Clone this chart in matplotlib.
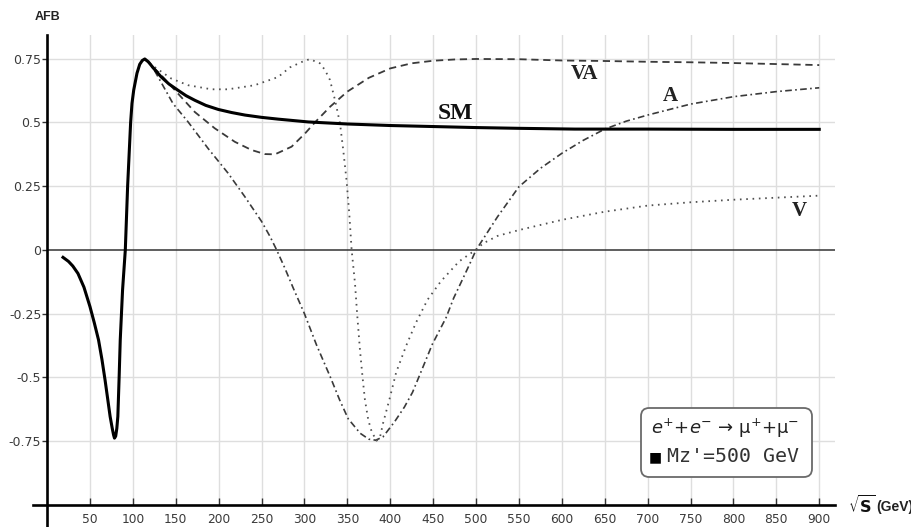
import matplotlib
matplotlib.use("Agg")
import matplotlib.pyplot as plt
from matplotlib.patches import FancyBboxPatch

# Forward-backward asymmetry vs sqrt(s)
sm_x = [18.6, 25, 30, 36, 43, 50, 55, 60, 64, 67.6, 70.5, 73.5, 76, 77.5, 78.6,
        80, 81.3, 82.5, 84, 85.3, 88, 91.2, 93.9, 97.4, 99, 101, 104.8, 108, 111,
        113.9, 118, 124, 133.2, 142, 152.7, 162, 172.2, 185, 199.6, 215, 230.7,
        250, 269.5, 304.5, 350, 400, 450, 500, 550, 615, 700, 800, 900]
sm_y = [-0.029, -0.045, -0.063, -0.092, -0.146, -0.222, -0.285, -0.353, -0.43,
        -0.51, -0.58, -0.653, -0.70, -0.725, -0.738, -0.73, -0.70, -0.653, -0.50,
        -0.353, -0.157, 0.0, 0.25, 0.50, 0.575, 0.627, 0.693, 0.728, 0.743,
        0.749, 0.738, 0.713, 0.678, 0.651, 0.626, 0.605, 0.587, 0.567, 0.551,
        0.539, 0.529, 0.520, 0.513, 0.502, 0.494, 0.488, 0.484, 0.480, 0.477,
        0.474, 0.474, 0.473, 0.473]

va_x = [114, 120, 125.5, 133.2, 152.7, 172.2, 195.5, 218.9, 238.3, 253.9, 265.6,
        285, 300.7, 313, 330, 350, 375, 400, 425, 450, 475, 500, 550, 600, 650,
        700, 750, 800, 850, 900]
va_y = [0.748, 0.73, 0.711, 0.685, 0.613, 0.541, 0.477, 0.424, 0.392, 0.376,
        0.375, 0.405, 0.457, 0.503, 0.562, 0.621, 0.675, 0.712, 0.732, 0.742,
        0.747, 0.749, 0.748, 0.743, 0.741, 0.738, 0.736, 0.733, 0.729, 0.725]

a_x = [114, 119, 125, 135, 146.8, 164.4, 187.7, 211, 230.5, 250, 260, 267.6, 277,
       287, 300, 314, 330, 341, 351, 365, 375, 383, 391.5, 405, 416.5, 426, 434,
       449, 465, 474, 484, 494, 500, 525, 550, 575, 600, 625, 650, 675, 700, 750,
       800, 850, 900]
a_y = [0.748, 0.733, 0.705, 0.645, 0.574, 0.502, 0.398, 0.301, 0.209, 0.112,
       0.052, 0.0, -0.07, -0.15, -0.25, -0.372, -0.497, -0.588, -0.662, -0.719,
       -0.742, -0.746, -0.733, -0.674, -0.616, -0.558, -0.493, -0.37, -0.266,
       -0.188, -0.117, -0.045, 0.0, 0.13, 0.248, 0.32, 0.379, 0.43, 0.474, 0.505,
       0.529, 0.572, 0.601, 0.621, 0.636]

v_x = [114, 125.5, 144.9, 164.4, 191.6, 211, 241.9, 269.2, 283.1, 300.7, 306.4,
       318, 323.9, 329.7, 335.6, 341.4, 345.2, 349, 352.2, 355, 358.9, 361.5,
       364.7, 367.8, 370.5, 374.4, 378.3, 384, 388, 391.5, 399.2, 406.9, 418.5,
       430, 443.5, 459, 480.2, 499.4, 508.4, 525, 550, 600, 650, 700, 750, 800,
       850, 900]
v_y = [0.748, 0.717, 0.672, 0.646, 0.630, 0.630, 0.646, 0.678, 0.716, 0.743,
       0.748, 0.732, 0.706, 0.667, 0.588, 0.497, 0.392, 0.275, 0.144, 0.0, -0.131,
       -0.255, -0.392, -0.502, -0.588, -0.667, -0.712, -0.748, -0.735, -0.681,
       -0.584, -0.480, -0.376, -0.285, -0.195, -0.123, -0.045, 0.0, 0.026, 0.055,
       0.078, 0.118, 0.150, 0.174, 0.187, 0.197, 0.205, 0.213]

x_ticks = list(range(50, 901, 50))
y_ticks = [-0.75, -0.5, -0.25, 0, 0.25, 0.5, 0.75]
y_tick_labels = ["-0.75", "-0.5", "-0.25", "0", "0.25", "0.5", "0.75"]

plt.rcParams["font.family"] = ["DejaVu Sans"]

fig = plt.figure(figsize=(9.12, 5.27), dpi=100)
ax = fig.add_axes([0.0516, 0.0418, 0.8639, 0.8918])
ax.set_xlim(0, 918.3)
ax.set_ylim(-1.0, 0.843)

for s in ax.spines.values():
    s.set_visible(False)

ax.set_xticks(x_ticks)
ax.set_xticklabels([str(t) for t in x_ticks])
ax.set_yticks(y_ticks)
ax.set_yticklabels(y_tick_labels)
ax.tick_params(axis="y", direction="out", length=3.6, width=1, pad=0.5,
               color="#333333", labelcolor="#3a3a3a", labelsize=9)
ax.tick_params(axis="x", direction="in", length=5, width=1, pad=5.5,
               color="#333333", labelcolor="#3a3a3a", labelsize=8.8)

# light grid, zero line drawn separately
for t in x_ticks:
    ax.axvline(t, color="#dedede", lw=1, zorder=0)
for t in y_ticks:
    if t != 0:
        ax.axhline(t, color="#dedede", lw=1, zorder=0)
ax.axhline(0, color="#333333", lw=1.1, zorder=1)

# Mathematica-like crossing axes
ax.axvline(0, ymin=-0.05, ymax=1, color="black", lw=1.9, clip_on=False, zorder=5)
ax.axhline(-1.0, xmin=-0.018, xmax=1, color="black", lw=1.9, clip_on=False, zorder=5)

ax.plot(va_x, va_y, color="#3a3a3a", lw=1.3, dashes=(4, 2.6), zorder=3)
ax.plot(a_x, a_y, color="#3a3a3a", lw=1.2, dashes=(4, 2, 1, 2), zorder=3)
ax.plot(v_x, v_y, color="#505050", lw=1.3, dashes=(0.9, 2.6), zorder=3)
ax.plot(sm_x, sm_y, color="black", lw=2.2, zorder=4)

serif = ["Liberation Serif", "DejaVu Serif"]
ax.text(476, 0.537, "SM", family=serif, weight="bold", fontsize=17,
        ha="center", va="center", color="#111111")
ax.text(627, 0.69, "VA", family=serif, weight="bold", fontsize=15,
        ha="center", va="center", color="#222222")
ax.text(726, 0.604, "A", family=serif, weight="bold", fontsize=15,
        ha="center", va="center", color="#222222")
ax.text(877, 0.153, "V", family=serif, weight="bold", fontsize=15,
        ha="center", va="center", color="#222222")

# axis titles
fig.text(48 / 912, 1 - 17 / 527, "AFB", fontsize=9, weight="bold",
         family=["Liberation Sans", "DejaVu Sans"],
         ha="center", va="center", color="#222222")
fig.text(848 / 912, 1 - 506 / 527, r"$\sqrt{\mathbf{S}}$", fontsize=11.5,
         ha="left", va="center", color="#111111")
fig.text(876 / 912, 1 - 507 / 527, "(GeV)", fontsize=10, weight="bold",
         family=["Liberation Sans", "DejaVu Sans"],
         ha="left", va="center", color="#222222")

# legend box
box = FancyBboxPatch((641 / 912, 1 - 477 / 527), 171 / 912, 69 / 527,
                     boxstyle="round,pad=0,rounding_size=0.009",
                     mutation_aspect=912 / 527, transform=fig.transFigure,
                     facecolor="white", edgecolor="#6a6a6a", lw=1.3, zorder=10)
fig.patches.append(box)
fig.text(725 / 912, 1 - 428 / 527,
         r"$e^{+}$+$e^{-}$ → μ$^{+}$+μ$^{-}$", fontsize=13,
         ha="center", va="center", color="#222222", zorder=11)
fig.text(655 / 912, 1 - 457 / 527, "■", fontsize=10,
         ha="center", va="center", color="black", zorder=11)
fig.text(667 / 912, 1 - 457 / 527, "Mz'=500 GeV", fontsize=14.3,
         family=["DejaVu Sans Mono"], ha="left", va="center", color="#333333", zorder=11)

fig.savefig("out.png", dpi=100)
